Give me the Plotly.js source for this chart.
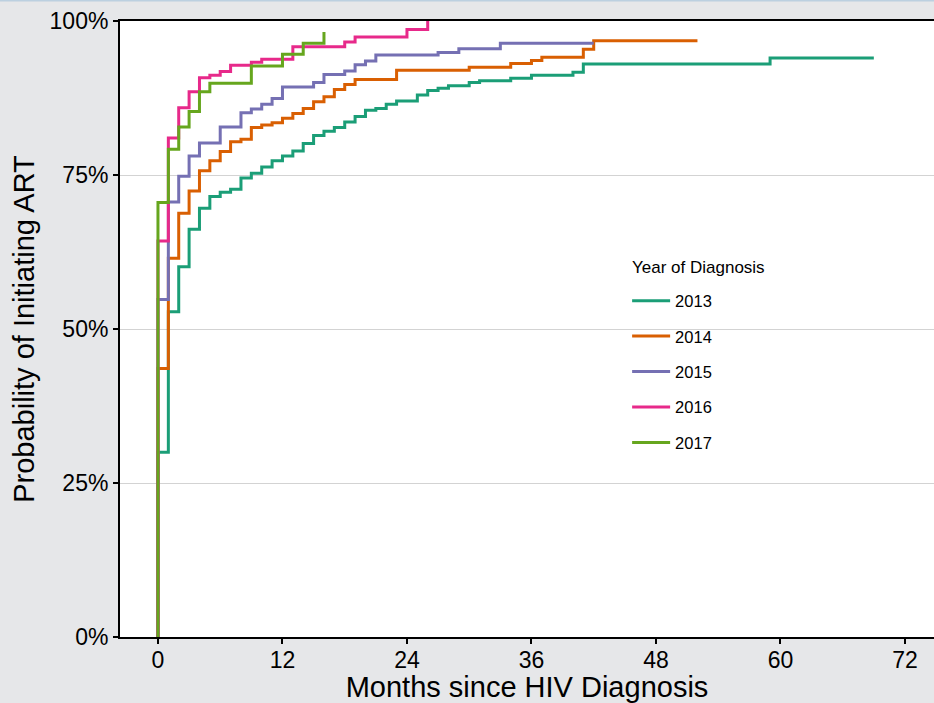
<!DOCTYPE html>
<html>
<head>
<meta charset="utf-8">
<script src="https://cdn.plot.ly/plotly-3.0.1.min.js"></script>
<style>
  html, body { margin: 0; padding: 0; background: #e6e7e9; }
  #chart { width: 934px; height: 703px; }
</style>
</head>
<body>
<div id="chart"></div>
<script>
// Months since diagnosis (step times) and cumulative probability (%) per diagnosis year
const months2013 = [0,0,1,2,3,4,5,6,7,8,9,10,11,12,13,14,15,16,17,18,19,20,21,22,23,25,26,27,28,30,31,34,36,40,41,59,69];
const prob2013   = [0,30.0,52.8,60.1,66.2,69.6,71.5,72.2,72.7,74.5,75.3,76.3,77.3,78.1,78.9,80.1,81.4,82.1,82.7,83.6,84.5,85.5,85.8,86.5,87.0,88.0,88.7,89.1,89.5,90.0,90.3,90.7,91.2,91.7,93.0,94.0,94.0];

const months2014 = [0,0,1,2,3,4,5,6,7,8,9,10,11,12,13,14,15,16,17,18,19,23,30,34,36,37,41,42,52];
const prob2014   = [0,43.6,61.5,68.8,72.4,75.7,77.3,78.8,80.4,80.8,82.7,83.1,83.5,84.2,85.0,85.8,86.9,87.7,88.9,89.7,90.5,92.0,92.5,93.1,93.6,94.1,95.4,96.8,96.8];

const months2015 = [0,0,1,2,3,4,6,8,9,10,11,12,15,16,18,19,20,21,27,29,33,42];
const prob2015   = [0,54.8,70.6,74.8,78.1,80.2,82.8,85.1,85.7,86.5,87.4,89.3,90.0,91.3,91.9,92.9,93.5,94.5,94.9,95.5,96.4,96.4];

const months2016 = [0,0,1,2,3,4,5,6,7,9,10,13,18,19,24,26];
const prob2016   = [0,64.3,81.0,85.9,88.5,90.8,91.2,91.8,92.8,93.3,93.8,95.8,96.6,97.4,98.6,100];

const months2017 = [0,0,1,2,3,4,5,9,12,14,16];
const prob2017   = [0,70.55,79.2,82.8,85.3,88.5,89.9,92.7,94.6,96.4,98.2];

const years  = ['2013','2014','2015','2016','2017'];
const colors = ['#1b9e77','#d95f02','#7570b3','#e7298a','#66a61e'];
const xTicks = [0,12,24,36,48,60,72];
const yTicks = [0,25,50,75,100];
const legendTitle = 'Year of Diagnosis';

const series = [
  [months2013, prob2013],
  [months2014, prob2014],
  [months2015, prob2015],
  [months2016, prob2016],
  [months2017, prob2017]
];

const FONT = 'Liberation Sans, Arial, Helvetica, sans-serif';

const traces = series.map((s, i) => ({
  x: s[0],
  y: s[1],
  type: 'scatter',
  mode: 'lines',
  name: years[i],
  legendgroup: years[i],
  line: { shape: 'hv', color: colors[i], width: 3 },
  hoverinfo: 'skip'
}));

const layout = {
  width: 934,
  height: 703,
  paper_bgcolor: '#e6e7e9',
  plot_bgcolor: '#ffffff',
  margin: { l: 120, r: 0, t: 21, b: 66, pad: 0 },
  font: { family: FONT, color: '#000000' },
  showlegend: true,
  legend: {
    x: 0.623, y: 0.574, xanchor: 'left', yanchor: 'top',
    bgcolor: 'rgba(0,0,0,0)',
    borderwidth: 0,
    font: { family: FONT, size: 16.5, color: '#000000' },
    tracegroupgap: 11,
    traceorder: 'grouped',
    itemwidth: 38
  },
  annotations: [
    { text: legendTitle, xref: 'paper', yref: 'paper',
      x: (630 - 120) / 814, y: (637 - 267) / 616,
      xanchor: 'left', yanchor: 'middle', showarrow: false,
      font: { family: FONT, size: 17, color: '#000000' } }
  ],
  xaxis: {
    range: [-3.66, 74.8],
    tickvals: xTicks,
    ticktext: xTicks.map(String),
    ticks: 'outside', ticklen: 5, tickwidth: 2, tickcolor: '#000000',
    ticklabelstandoff: -4,
    showline: true, linecolor: '#000000', linewidth: 2, mirror: true,
    showgrid: false, zeroline: false,
    tickfont: { family: FONT, size: 23, color: '#000000' },
    title: { text: 'Months since HIV Diagnosis', font: { family: FONT, size: 29, color: '#000000' }, standoff: 14 },
    fixedrange: true
  },
  yaxis: {
    range: [0, 100],
    tickvals: yTicks,
    ticktext: yTicks.map(v => v + '%'),
    ticks: 'outside', ticklen: 5, tickwidth: 2, tickcolor: '#000000',
    showline: true, linecolor: '#000000', linewidth: 2, mirror: false,
    showgrid: true, gridcolor: '#d3d3d3', gridwidth: 1,
    zeroline: false,
    tickfont: { family: FONT, size: 23, color: '#000000' },
    title: { text: 'Probability of Initiating ART', font: { family: FONT, size: 29, color: '#000000' }, standoff: 6 },
    fixedrange: true
  },
  shapes: [
    { type: 'line', xref: 'paper', yref: 'paper',
      x0: -0.2, x1: 1.0, y0: 1 + 20.3/616, y1: 1 + 20.3/616,
      line: { color: '#bcd0e0', width: 1.5 } }
  ]
};

Plotly.newPlot('chart', traces, layout, { displayModeBar: false, staticPlot: true });
</script>
</body>
</html>
